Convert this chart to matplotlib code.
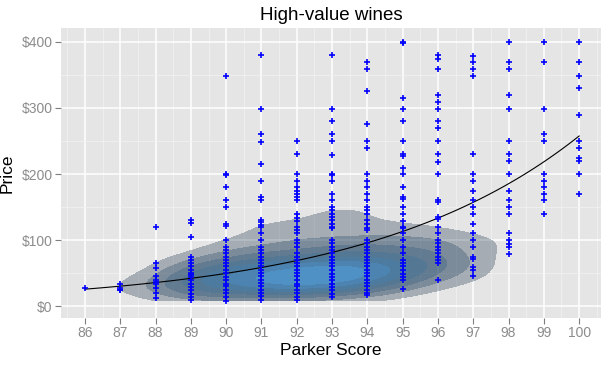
import numpy as np
import matplotlib
matplotlib.use("Agg")
from matplotlib import pyplot as plt
from matplotlib.ticker import FuncFormatter, MultipleLocator

scores = [86, 87, 88, 89, 90, 91, 92, 93, 94, 95, 96, 97, 98, 99, 100]

# visible (non-overlapping) markers per score
prices_by_score = [
    [27],
    [34, 28, 25, 24],
    [120, 65, 57, 45, 39, 37, 33, 28, 20, 12],
    [130, 126, 105, 75, 70, 65, 60, 55, 50, 49, 47, 44, 39, 34, 29, 24, 19, 14, 10],
    [349, 200, 198, 180, 160, 150, 125, 121, 100, 90, 85, 80, 75, 70, 65, 60, 55,
     50, 44, 40, 34, 30, 24, 20, 14, 8],
    [380, 299, 260, 248, 215, 189, 165, 161, 130, 127, 123, 120, 110, 100, 90, 85,
     80, 75, 70, 65, 60, 55, 50, 45, 40, 35, 30, 25, 20, 15, 9],
    [250, 230, 200, 189, 180, 174, 169, 165, 160, 140, 134, 129, 120, 115, 110, 100,
     95, 90, 80, 75, 70, 65, 60, 55, 50, 45, 40, 34, 30, 24, 20, 14, 10],
    [380, 299, 280, 260, 250, 229, 200, 198, 189, 169, 160, 150, 145, 140, 135, 130,
     125, 120, 118, 100, 95, 90, 85, 80, 75, 70, 65, 60, 55, 49, 44, 39, 34, 29, 24,
     19, 14],
    [369, 359, 325, 275, 250, 239, 200, 189, 180, 169, 160, 150, 145, 140, 130, 125,
     118, 115, 100, 95, 90, 85, 80, 75, 70, 65, 60, 55, 50, 45, 40, 35, 30, 25, 20, 17],
    [400, 398, 315, 299, 280, 250, 230, 228, 209, 200, 180, 165, 162, 150, 140, 129,
     120, 118, 110, 100, 90, 80, 70, 65, 60, 55, 49, 44, 39, 26],
    [380, 374, 359, 319, 309, 299, 280, 270, 250, 230, 218, 200, 161, 157, 135, 132,
     120, 110, 100, 95, 90, 85, 80, 75, 70, 65, 39],
    [379, 369, 359, 349, 230, 200, 189, 175, 160, 150, 140, 125, 110, 100, 90, 74,
     71, 59, 54, 45],
    [400, 369, 359, 319, 299, 250, 230, 220, 200, 175, 160, 150, 140, 110, 100, 94,
     90, 79],
    [400, 369, 299, 260, 250, 200, 189, 180, 169, 160, 140],
    [400, 369, 349, 330, 290, 250, 239, 224, 220, 200, 169],
]

# estimated extra wines hidden under overplotted markers (score x price band)
overplot_scores = [88, 89, 90, 91, 92, 93, 94, 95, 96, 97]
overplot_bands = [15, 25, 35, 45, 55, 65, 80, 100]
overplot_counts = [
    [1, 2, 2, 1, 0, 0, 0, 0],
    [3, 5, 6, 5, 3, 2, 1, 0],
    [3, 6, 8, 8, 6, 4, 2, 1],
    [3, 7, 10, 10, 8, 6, 4, 2],
    [3, 7, 11, 12, 10, 7, 5, 3],
    [2, 6, 10, 12, 11, 9, 6, 4],
    [1, 4, 7, 10, 10, 9, 7, 5],
    [1, 2, 4, 6, 8, 8, 7, 5],
    [0, 1, 2, 3, 4, 5, 5, 4],
    [0, 0, 1, 1, 2, 2, 2, 2],
]

price_ticks = [0, 100, 200, 300, 400]


def bandwidth_nrd(v):
    q25, q75 = np.percentile(v, [25, 75])
    return 4 * 1.06 * min(np.std(v, ddof=1), (q75 - q25) / 1.34) * len(v) ** (-0.2)


def kde2d(x, y, n=100):
    hx = bandwidth_nrd(x) / 4
    hy = bandwidth_nrd(y) / 4
    gx = np.linspace(x.min(), x.max(), n)
    gy = np.linspace(y.min(), y.max(), n)
    ax = (gx[:, None] - x[None, :]) / hx
    ay = (gy[:, None] - y[None, :]) / hy
    z = np.exp(-0.5 * ay ** 2) @ np.exp(-0.5 * ax ** 2).T
    z /= (2 * np.pi * len(x) * hx * hy)
    return gx, gy, z


def exp_fit(x, y, steps=50):
    # least squares for y = exp(a + b*x) (gaussian glm, log link)
    b, a = np.polyfit(x, np.log(y), 1)
    for _ in range(steps):
        f = np.exp(a + b * x)
        J = np.column_stack([f, f * x])
        da, db = np.linalg.lstsq(J, y - f, rcond=None)[0]
        a, b = a + da, b + db
    return a, b


x = np.concatenate([[s] * len(p) for s, p in zip(scores, prices_by_score)]).astype(float)
y = np.concatenate(prices_by_score).astype(float)

counts = np.array(overplot_counts)
hidden_x = np.repeat(np.repeat(overplot_scores, len(overplot_bands)), counts.ravel())
hidden_y = np.repeat(np.tile(overplot_bands, len(overplot_scores)), counts.ravel())
all_x = np.concatenate([x, hidden_x]).astype(float)
all_y = np.concatenate([y, hidden_y]).astype(float)

figure = plt.figure(figsize=(6.08, 3.70), dpi=100)
axes = figure.add_axes([0.1003, 0.1405, 0.8882, 0.7838])
axes.set_facecolor("#E5E5E5")

# density layers, stacked with alpha like ggplot polygons
gx, gy, z = kde2d(all_x, all_y)
levels = z.max() * np.arange(1, 8) / 8
low = np.array([0x13, 0x2B, 0x43]) / 255
high = np.array([0x56, 0xB1, 0xF7]) / 255
for i, lev in enumerate(levels):
    t = i / (len(levels) - 1)
    colour = low + (high - low) * t
    axes.contourf(gx, gy, z, levels=[lev, z.max() * 10], colors=[colour], alpha=0.3,
                  zorder=2)

a, b = exp_fit(all_x, all_y)
xs = np.linspace(min(scores), max(scores), 100)
axes.plot(xs, np.exp(a + b * xs), color="black", lw=0.8, zorder=3)

axes.plot(x, y, linestyle="none", marker="+", markersize=3.8, mew=1.2, color="#0000FF",
          zorder=4)

axes.set_xlim(85.32, 100.62)
axes.set_ylim(-18, 421)
axes.set_xticks(scores)
axes.set_yticks(price_ticks)
axes.xaxis.set_minor_locator(MultipleLocator(0.5))
axes.yaxis.set_minor_locator(MultipleLocator(50))
axes.yaxis.set_major_formatter(FuncFormatter(lambda v, pos: "$%d" % v))
axes.grid(True, which="major", color="white", lw=1.1, zorder=0)
axes.grid(True, which="minor", color="#F2F2F2", lw=0.5, zorder=0)
axes.set_axisbelow(True)
for spine in axes.spines.values():
    spine.set_visible(False)
axes.tick_params(which="major", length=4, width=0.8, color="#7F7F7F",
                 labelcolor="#8C8C8C", labelsize=10, pad=2, labelfontfamily="Liberation Sans")
axes.tick_params(which="minor", length=0)

axes.set_title("High-value wines", fontsize=13.5, family="Liberation Sans", pad=6)
axes.set_xlabel("Parker Score", fontsize=12.5, family="Liberation Sans", labelpad=2)
axes.set_ylabel("Price", fontsize=12.5, family="Liberation Sans")
axes.yaxis.set_label_coords(-0.086, 0.5)

figure.savefig("out.png", dpi=100)
